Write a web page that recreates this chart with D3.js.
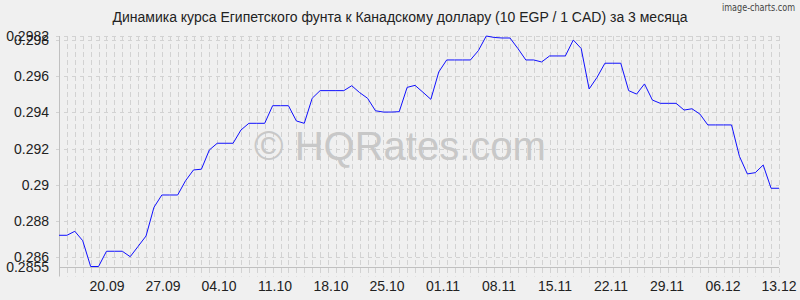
<!DOCTYPE html>
<html>
<head>
<meta charset="utf-8">
<script src="https://cdnjs.cloudflare.com/ajax/libs/d3/7.8.5/d3.min.js"></script>
<style>
	html, body { margin: 0; padding: 0; background: #f0f0f0; }
	svg { display: block; }
</style>
</head>
<body>
<svg id="main-svg" width="800" height="300"></svg>
<script>

	var title = 'Динамика курса Египетского фунта к Канадскому доллару (10 EGP / 1 CAD) за 3 месяца',
		startDate = new Date( 2019, 8, 13 ),
		endDate = new Date( 2019, 11, 13 );

	// 10 EGP / 1 CAD, one value a day from 13.09 to 13.12
	var rates = [
		0.28722, 0.28722, 0.28744, 0.28692, 0.28550, 0.28550, 0.28634, 0.28634,
		0.28634, 0.28604, 0.28661, 0.28718, 0.28876, 0.28944, 0.28944, 0.28944,
		0.29023, 0.29082, 0.29086, 0.29192, 0.29229, 0.29229, 0.29229, 0.29302,
		0.29339, 0.29339, 0.29339, 0.29436, 0.29436, 0.29436, 0.29352, 0.29339,
		0.29477, 0.29519, 0.29519, 0.29519, 0.29519, 0.29546, 0.29508, 0.29477,
		0.29408, 0.29401, 0.29401, 0.29403, 0.29537, 0.29548, 0.29510, 0.29471,
		0.29622, 0.29688, 0.29688, 0.29688, 0.29688, 0.29739, 0.29820, 0.29812,
		0.29809, 0.29809, 0.29751, 0.29688, 0.29688, 0.29677, 0.29710, 0.29710,
		0.29710, 0.29798, 0.29751, 0.29528, 0.29592, 0.29670, 0.29670, 0.29670,
		0.29519, 0.29500, 0.29556, 0.29467, 0.29449, 0.29449, 0.29449, 0.29412,
		0.29419, 0.29390, 0.29330, 0.29330, 0.29330, 0.29330, 0.29157, 0.29060,
		0.29067, 0.29109, 0.28981, 0.28981
	];

	var xTickLabels = [ '20.09', '27.09', '04.10', '11.10', '18.10', '25.10', '01.11',
		'08.11', '15.11', '22.11', '29.11', '06.12', '13.12' ];

	var yTickValues = [ 0.2855, 0.286, 0.288, 0.29, 0.292, 0.294, 0.296, 0.298, 0.2982 ],
		yTickLabels = [ '0.2855', '0.286', '0.288', '0.29', '0.292', '0.294', '0.296', '0.298', '0.2982' ];


	var svg = d3.select( 'svg#main-svg' ),
		plotLeft = 59,
		plotRight = 779,
		plotTop = 36,
		plotBottom = 266.5,
		gridColor = '#d2d2d2',
		font = 'Liberation Sans, Arial, sans-serif',
		days = d3.timeDay.range( startDate, d3.timeDay.offset( endDate, 1 ) );

	var x = d3.scaleTime()
			.domain( [ startDate, endDate ] )
			.range( [ plotLeft, plotRight ] ),
		y = d3.scaleLinear()
			.domain( [ 0.2855, 0.2982 ] )
			.range( [ plotBottom, plotTop ] ),
		xLabel = d3.scalePoint()
			.domain( xTickLabels )
			.range( [ 107, plotRight ] );

	svg.append( 'rect' )
		.attr( 'width', 800 )
		.attr( 'height', 300 )
		.attr( 'fill', '#f0f0f0' );

	// day grid, dashed, running a little below the axis
	svg.append( 'g' )
		.selectAll( 'line' )
		.data( days.slice( 1 ) )
		.enter().append( 'line' )
			.attr( 'x1', function( d ) { return Math.round( x( d ) ) + 0.5; } )
			.attr( 'x2', function( d ) { return Math.round( x( d ) ) + 0.5; } )
			.attr( 'y1', plotTop )
			.attr( 'y2', plotBottom + 10 )
			.attr( 'stroke', gridColor )
			.attr( 'stroke-dasharray', '5,3' );

	svg.append( 'g' )
		.selectAll( 'line' )
		.data( yTickValues.slice( 1 ) )
		.enter().append( 'line' )
			.attr( 'x1', plotLeft - 3 )
			.attr( 'x2', plotRight )
			.attr( 'y1', function( d ) { return Math.round( y( d ) ) + 0.5; } )
			.attr( 'y2', function( d ) { return Math.round( y( d ) ) + 0.5; } )
			.attr( 'stroke', gridColor )
			.attr( 'stroke-dasharray', '4,4' );

	// axes lines
	svg.append( 'line' )
		.attr( 'x1', plotLeft + 0.5 ).attr( 'x2', plotLeft + 0.5 )
		.attr( 'y1', plotTop ).attr( 'y2', plotBottom + 10 )
		.attr( 'stroke', '#c0c0c0' );

	svg.append( 'line' )
		.attr( 'x1', plotLeft ).attr( 'x2', plotRight )
		.attr( 'y1', Math.round( plotBottom ) + 0.5 ).attr( 'y2', Math.round( plotBottom ) + 0.5 )
		.attr( 'stroke', '#c0c0c0' );

	// watermark
	svg.append( 'text' )
		.attr( 'x', 400 )
		.attr( 'y', 160 )
		.attr( 'text-anchor', 'middle' )
		.attr( 'font-family', font )
		.attr( 'font-size', 40 )
		.attr( 'fill', '#c8c8c8' )
		.text( '© HQRates.com' );

	var line = d3.line()
		.x( function( d, i ) { return x( days[ i ] ); } )
		.y( function( d ) { return y( d ); } );

	svg.append( 'path' )
		.datum( rates )
		.attr( 'd', line )
		.attr( 'fill', 'none' )
		.attr( 'stroke', '#1010ff' )
		.attr( 'stroke-width', 1 );

	// y labels
	svg.append( 'g' )
		.selectAll( 'text' )
		.data( yTickValues )
		.enter().append( 'text' )
			.attr( 'x', 49 )
			.attr( 'y', function( d ) { return y( d ) + 5; } )
			.attr( 'text-anchor', 'end' )
			.attr( 'font-family', font )
			.attr( 'font-size', 14 )
			.attr( 'fill', '#222' )
			.text( function( d, i ) { return yTickLabels[ i ]; } );

	// x labels
	svg.append( 'g' )
		.selectAll( 'text' )
		.data( xTickLabels )
		.enter().append( 'text' )
			.attr( 'x', function( d ) { return xLabel( d ); } )
			.attr( 'y', 291 )
			.attr( 'text-anchor', 'middle' )
			.attr( 'font-family', font )
			.attr( 'font-size', 14 )
			.attr( 'fill', '#222' )
			.text( function( d ) { return d; } );

	svg.append( 'text' )
		.attr( 'x', 400 )
		.attr( 'y', 22 )
		.attr( 'text-anchor', 'middle' )
		.attr( 'font-family', font )
		.attr( 'font-size', 14 )
		.attr( 'fill', '#222' )
		.text( title );

	svg.append( 'text' )
		.attr( 'x', 795 )
		.attr( 'y', 11 )
		.attr( 'text-anchor', 'end' )
		.attr( 'font-family', 'Liberation Sans Narrow, DejaVu Sans Condensed, sans-serif' )
		.attr( 'font-size', 11 )
		.attr( 'textLength', 73 )
		.attr( 'lengthAdjust', 'spacingAndGlyphs' )
		.attr( 'fill', '#444' )
		.text( 'image-charts.com' );

</script>
</body>
</html>
